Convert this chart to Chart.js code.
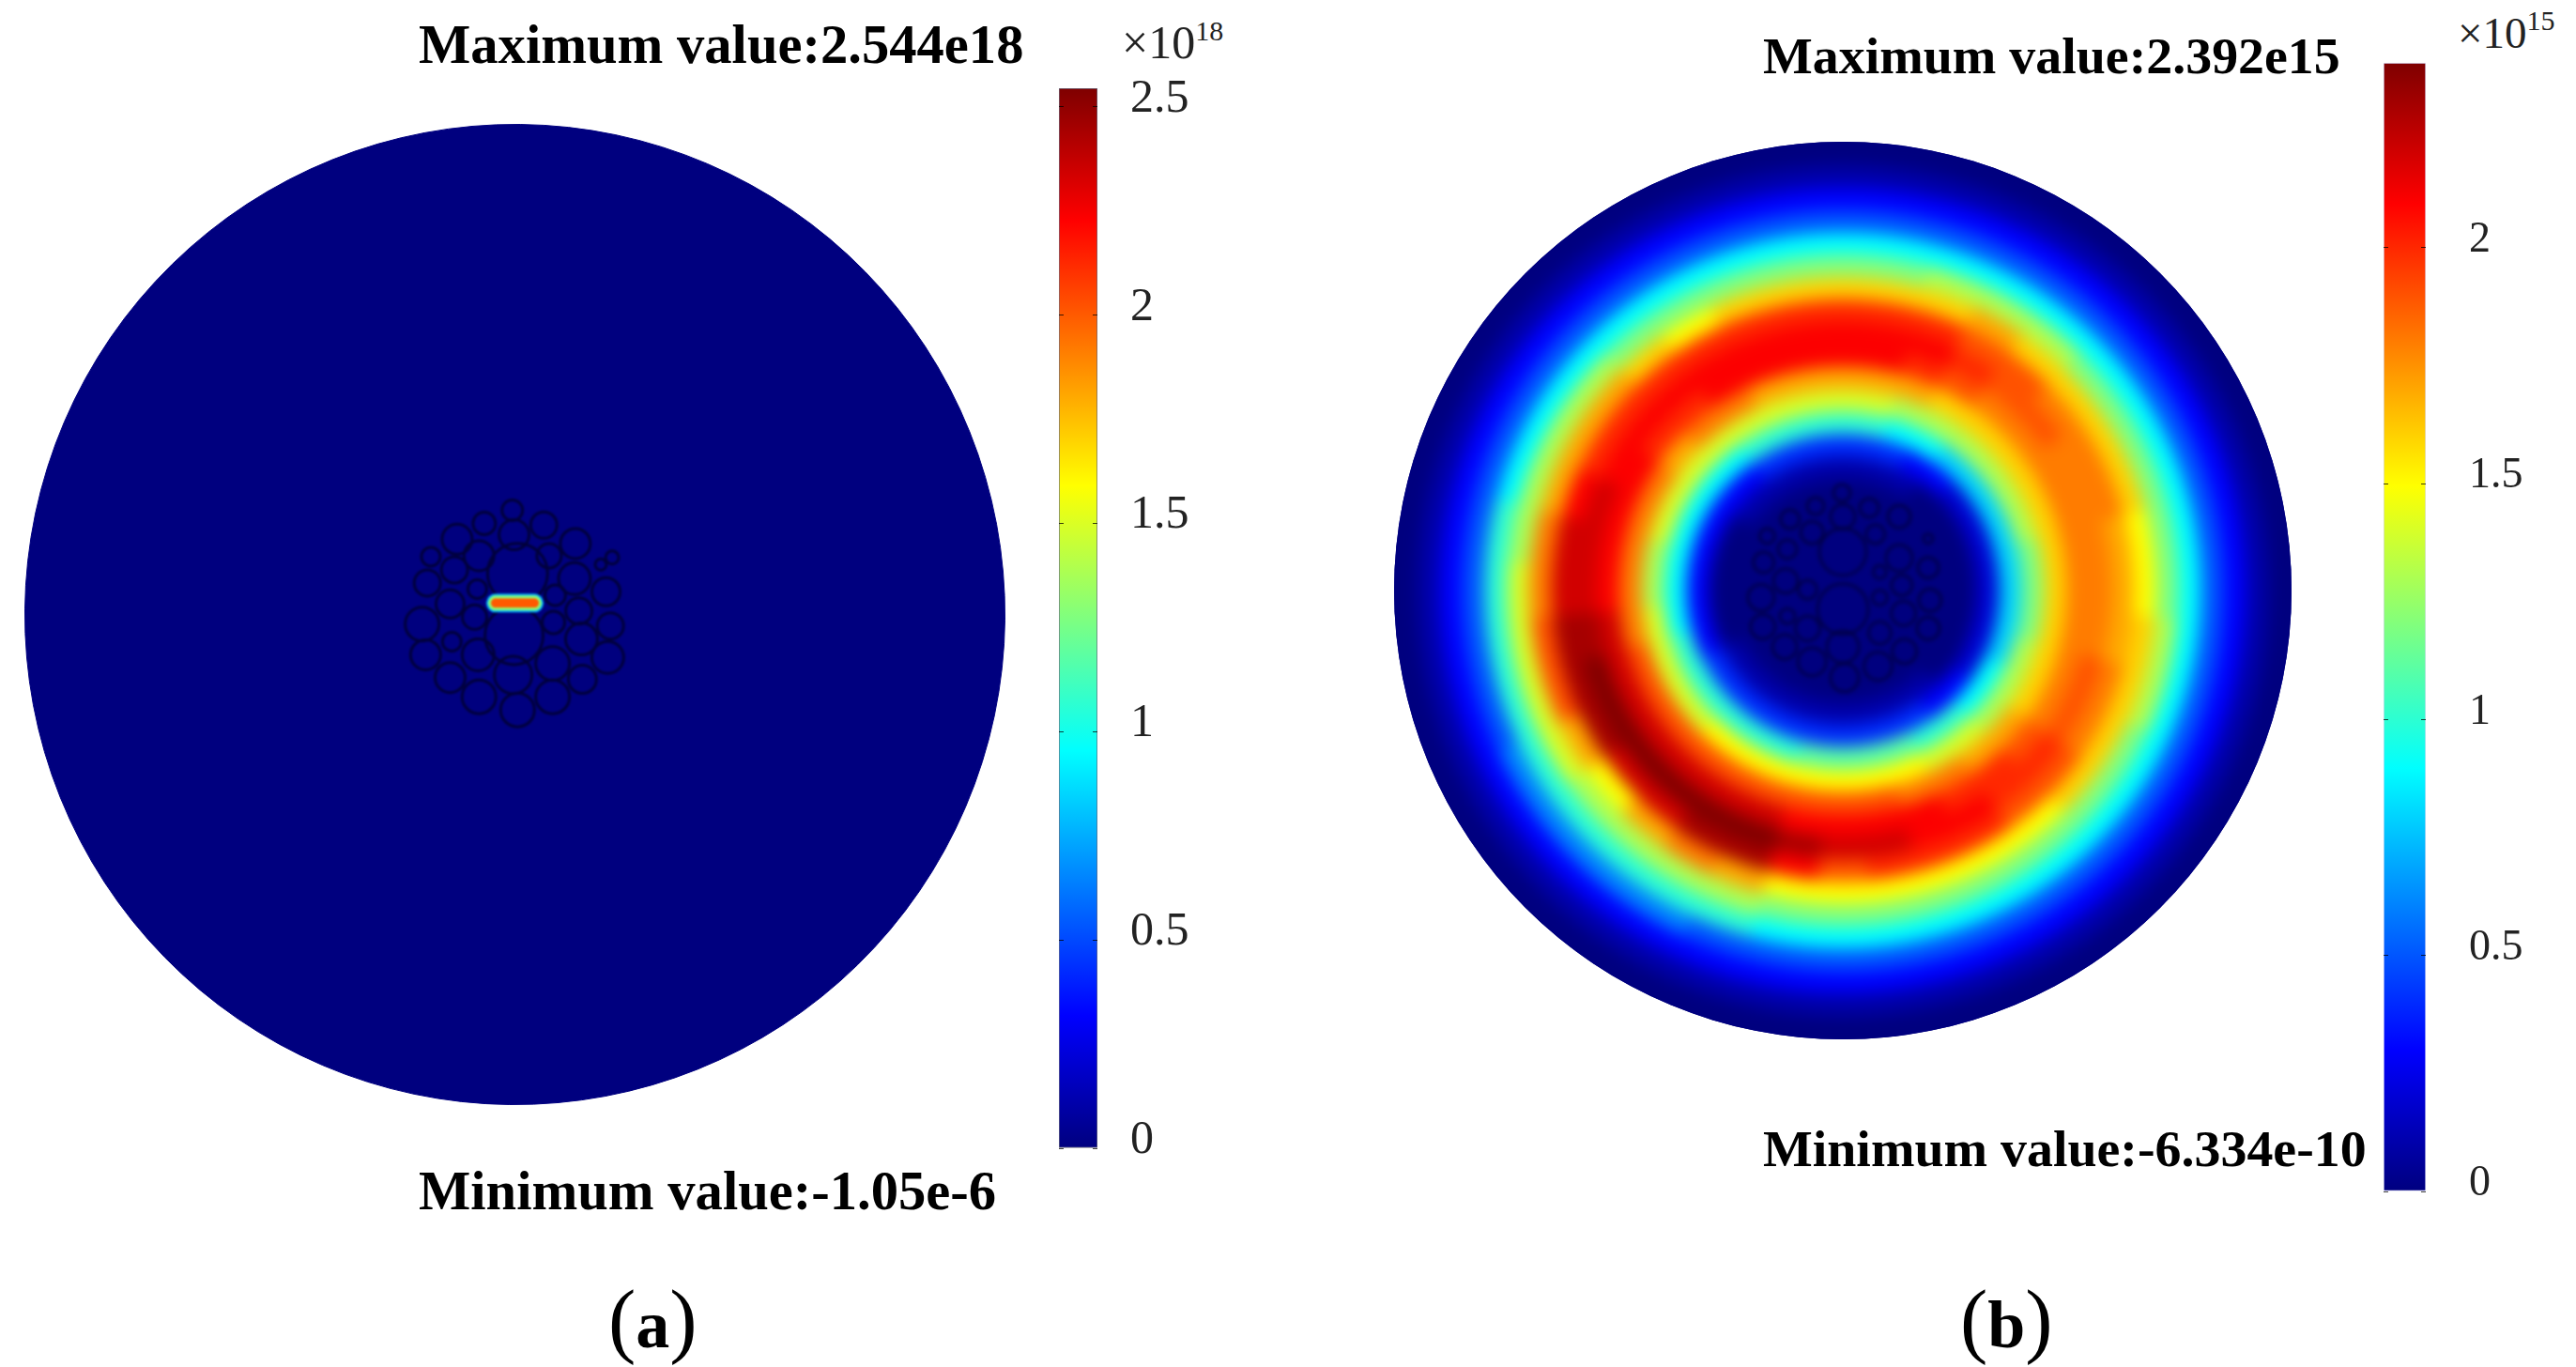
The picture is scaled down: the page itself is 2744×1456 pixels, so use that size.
<!DOCTYPE html>
<html>
<head>
<meta charset="utf-8">
<title>Field distribution</title>
<script src="https://cdn.jsdelivr.net/npm/chart.js@4"></script>
<style>
body { margin:0; background:#fff; width:2744px; height:1456px; position:relative; overflow:hidden; font-family:"Liberation Serif",serif; }
canvas { position:absolute; }
.clip { position:absolute; border-radius:50%; overflow:hidden; background:#00007f; }
.t { position:absolute; white-space:nowrap; line-height:1; color:#000; }
.b { font-weight:bold; font-size:58.6px; }
.b2 { font-weight:bold; font-size:55.9px; }
.e { font-size:50px; color:#222; }
.e2 { font-size:47px; color:#222; }
.e sup, .e2 sup { font-size:30px; vertical-align:baseline; position:relative; top:-19px; }
.p { font-size:88px; }
.p b { font-size:72px; }
</style>
</head>
<body>
<div class="t b" style="left:446px;top:19px">Maximum value:2.544e18</div>
<div class="t b" style="left:446px;top:1240px">Minimum value:-1.05e-6</div>
<div class="t b2" style="left:1878px;top:32px">Maximum value:2.392e15</div>
<div class="t b2" style="left:1878px;top:1196px">Minimum value:-6.334e-10</div>
<div class="t e" style="left:1195px;top:20px">×10<sup>18</sup></div>
<div class="t e2" style="left:2618px;top:12px">×10<sup>15</sup></div>
<div class="t p" style="left:648px;top:1362px">(<b>a</b>)</div>
<div class="t p" style="left:2088px;top:1362px">(<b>b</b>)</div>

<canvas id="diskA" width="1045" height="1045" style="left:26px;top:132px"></canvas>
<canvas id="coreA" width="1045" height="1045" style="left:26px;top:132px;filter:blur(1px)"></canvas>
<canvas id="barA" width="240" height="1209" style="left:1128px;top:54px"></canvas>

<div class="clip" style="left:1485px;top:151px;width:956px;height:956px">
  <canvas id="diskB" width="1004" height="1004" style="left:-24px;top:-24px;filter:blur(9px)"></canvas>
</div>
<canvas id="coreB" width="956" height="956" style="left:1485px;top:151px;filter:blur(2px)"></canvas>
<canvas id="barB" width="240" height="1282" style="left:2539px;top:27px"></canvas>

<script>
// colour bar ranges and tick labels
const rangeA = [0, 2.544]
const rangeB = [0, 2.392]
const ticksA = [0, 0.5, 1, 1.5, 2, 2.5]
const ticksB = [0, 0.5, 1, 1.5, 2]

// jet colour map stops
const jetStops = ['#00007f','#0000ff','#007fff','#00ffff','#7fff7f','#ffff00','#ff7f00','#ff0000','#7f0000']

// panel (a): strands of the core, x/y/r in picture pixels from disk centre
const coreAX = [-3,-35,33,-1,69,-66,-96,-41,39,3,111,98,-69,68,-100,104,-43,46,-74,73,-106,-46,44,109,-1,-72,76,-102,-42,106,43,-2,-74,77,-41,43,3]
const coreAY = [119,104,102,91,81,86,66,67,67,47,65,57,51,41,36,26,29,22,12,4,-11,-3,-9,-13,-24,-31,-28,-46,-46,-49,-56,-69,-72,-74,-94,-94,-109]
const coreAR = [11,12,14,16,16,16,10,16,13,32,7,6,14,17,14,15,10,11,15,14,18,13,12,14,31,10,17,16,17,17,18,20,16,15,18,18,18]

// panel (a): hot spot in the middle of the core, value x 1e18
const hotX = [-22,-18,-14,-10,-6,-2,2,6,10,14,18,22]
const hotY = [13,13,13,13,13,13,13,13,13,13,13,13]
const hotHalo = 0.75
const hotRim = 1.3
const hotMid = 2.0

// panel (b): strands
const coreBX = [-1,-31,30,0,64,-86,-60,-35,37,-63,0,-90,64,42,97,-65,-40,67,-93,42,99,0,-63,69,-91,-40,42,97,-66,0,70,-35,40,2,97]
const coreBY = [111,96,94,84,84,62,81,66,64,47,44,32,37,21,26,11,1,6,-8,-8,-11,-21,-29,-26,-41,-43,-48,-43,-64,-64,-69,-81,-86,-99,59]
const coreBR = [9,9,10,13,12,8,10,12,10,10,25,11,14,7,11,13,10,11,14,8,12,27,8,13,13,13,12,12,13,17,13,15,15,15,5]

// panel (b): value x 1e14, one row per 10 degrees clockwise from the top,
// one column per ring going outwards from the blue hole to the rim
const sectorValues = [
  [1,4,10,14,17,21,21,20,16,12,9,5,3,1,0],
  [1,4,10,14,17,21,21,20,16,12,9,5,3,1,0],
  [1,4,9,13,17,20,21,20,16,13,9,5,3,1,0],
  [1,3,9,13,16,19,20,19,17,13,9,5,3,1,0],
  [0,3,8,13,16,18,19,19,16,13,9,5,3,1,0],
  [0,2,8,13,16,18,19,18,16,12,9,5,3,1,0],
  [0,2,8,13,16,18,18,18,16,12,9,5,3,1,0],
  [0,2,8,13,16,18,18,18,16,12,9,5,3,1,0],
  [0,2,8,12,16,18,18,17,15,12,9,5,3,1,0],
  [0,2,8,12,16,18,18,17,15,12,9,5,3,1,0],
  [0,2,8,12,16,18,18,17,16,13,9,5,3,1,0],
  [0,2,8,13,16,18,19,18,16,13,9,5,3,1,0],
  [0,2,9,13,16,18,19,18,16,12,9,5,3,1,0],
  [0,3,9,13,17,19,20,19,16,12,9,5,3,1,0],
  [1,3,10,14,17,20,20,19,15,12,9,5,3,1,0],
  [1,4,10,14,18,20,21,20,15,12,9,5,3,1,0],
  [1,4,11,15,18,21,21,20,15,12,9,5,3,1,0],
  [1,4,11,15,19,21,22,20,15,12,9,5,3,1,0],
  [1,4,11,15,19,21,22,19,15,12,9,5,3,1,0],
  [1,4,11,15,19,21,23,21,15,12,9,5,3,1,0],
  [1,4,10,15,19,22,24,23,17,13,10,5,3,1,0],
  [1,4,10,15,19,22,24,23,18,13,10,6,3,1,0],
  [1,4,10,15,19,22,24,22,17,13,10,6,3,1,0],
  [1,4,10,14,19,22,24,22,15,13,10,6,3,1,0],
  [1,4,10,14,19,22,24,23,17,14,10,6,3,1,0],
  [0,3,10,14,19,22,24,23,19,14,10,5,3,1,0],
  [0,3,9,14,18,22,23,23,19,14,10,5,3,1,0],
  [0,3,9,13,18,21,22,22,18,14,10,5,3,1,0],
  [0,3,9,13,18,21,22,22,18,13,10,5,3,1,0],
  [0,3,9,14,18,21,22,21,17,13,9,5,3,1,0],
  [0,3,9,14,18,21,21,20,17,13,9,5,3,1,0],
  [1,3,9,14,17,20,21,20,17,13,9,5,3,1,0],
  [1,3,9,14,18,20,21,20,16,12,9,5,3,1,0],
  [1,4,10,14,18,21,21,20,15,12,9,5,3,1,0],
  [1,4,10,14,17,21,21,20,16,12,9,5,3,1,0],
  [1,4,10,14,17,21,21,20,16,12,9,5,3,1,0]
]

function jet(v, max) {
  var f = Math.min(Math.max(v / max, 0), 1) * (jetStops.length - 1)
  var i = Math.min(Math.floor(f), jetStops.length - 2)
  var a = parseInt(jetStops[i].slice(1), 16), b = parseInt(jetStops[i + 1].slice(1), 16)
  var t = f - i
  var mix = s => Math.round(((a >> s) & 255) * (1 - t) + ((b >> s) & 255) * t)
  return 'rgb(' + mix(16) + ',' + mix(8) + ',' + mix(0) + ')'
}

var base = { responsive:false, animation:false, plugins:{ legend:{display:false}, tooltip:{enabled:false} } }

function disk(id, rings) {
  new Chart(document.getElementById(id), {
    type: 'doughnut',
    data: { datasets: rings },
    options: Object.assign({}, base, { cutout:0, rotation:-5, layout:{padding:0} })
  })
}

function ring(colors, weight) {
  return { data: colors.map(() => 1), backgroundColor: colors, borderColor: colors, borderWidth: 1, weight: weight }
}

function panelADisk() {
  disk('diskA', [ring(['#00007f'], 1)])
}

function panelBDisk() {
  var rings = [ring(['#00007f'], 1)]   // goes under the clip, keeps the blur off the white
  for (var c = sectorValues[0].length - 1; c >= 0; c--) {
    rings.push(ring(sectorValues.map(row => jet(row[c] / 10, rangeB[1])), 1))
  }
  rings.push(ring(['#00007f'], 5))     // the hole with the core in it
  disk('diskB', rings)
}

function outlines(id, half, datasets) {
  new Chart(document.getElementById(id), {
    type: 'bubble',
    data: { datasets: datasets },
    options: Object.assign({}, base, {
      layout: { padding:0 },
      scales: {
        x: { display:false, min:-half, max:half },
        y: { display:false, min:-half, max:half }
      }
    })
  })
}

function strands(xs, ys, rs, color, width) {
  return { data: xs.map((x, i) => ({ x:x, y:ys[i], r:rs[i] })), backgroundColor:'rgba(0,0,0,0)', borderColor:color, borderWidth:width, clip:false }
}

function hotLayer(value, r) {
  return { data: hotX.map((x, i) => ({ x:x, y:hotY[i], r:r })), backgroundColor: jet(value, rangeA[1]), borderWidth:0 }
}

function colorBar(id, range, ticks, pad, offset, fontSize, barWidth, edge) {
  new Chart(document.getElementById(id), {
    type: 'bar',
    data: {
      labels: ['scale'],
      datasets: [{
        data: [range],
        barPercentage: 1,
        categoryPercentage: 1,
        borderWidth: 1,
        borderColor: edge,
        borderSkipped: false,
        backgroundColor: function (c) {
          var area = c.chart.chartArea
          if (!area) return '#000'
          var g = c.chart.ctx.createLinearGradient(0, area.bottom, 0, area.top)
          jetStops.forEach((s, i) => g.addColorStop(i / (jetStops.length - 1), s))
          return g
        }
      }]
    },
    options: Object.assign({}, base, {
      layout: { padding:{ top:40, bottom:40, left:0, right:0 } },
      scales: {
        x: { display:false },
        y: {
          position: 'right',
          min: range[0],
          max: range[1],
          afterFit: s => { s.width = 240 - barWidth; s.paddingTop = 0; s.paddingBottom = 0 },
          afterBuildTicks: s => { s.ticks = ticks.map(v => ({ value:v })) },
          border: { display:false, dash:[5, barWidth - 10, 5, 0] },
          grid: { color:'rgba(0,0,0,.75)', drawTicks:false, z:1 },
          ticks: {
            padding: pad,
            labelOffset: offset,
            color: '#222',
            font: { family:'Liberation Serif', size:fontSize },
            callback: v => String(v)
          }
        }
      }
    })
  })
}

panelADisk()
outlines('coreA', 522.5, [
  hotLayer(hotMid, 5),
  hotLayer(hotRim, 8),
  hotLayer(hotHalo, 10),
  strands(coreAX, coreAY, coreAR, '#00003c', 3)
])
colorBar('barA', rangeA, ticksA, 35, -8, 50, 41, 'rgba(40,40,70,.7)')

panelBDisk()
outlines('coreB', 478, [strands(coreBX, coreBY, coreBR, 'rgba(0,0,60,.75)', 3)])
colorBar('barB', rangeB, ticksB, 46, -8, 46, 45, 'rgba(200,200,235,.7)')
</script>
</body>
</html>
